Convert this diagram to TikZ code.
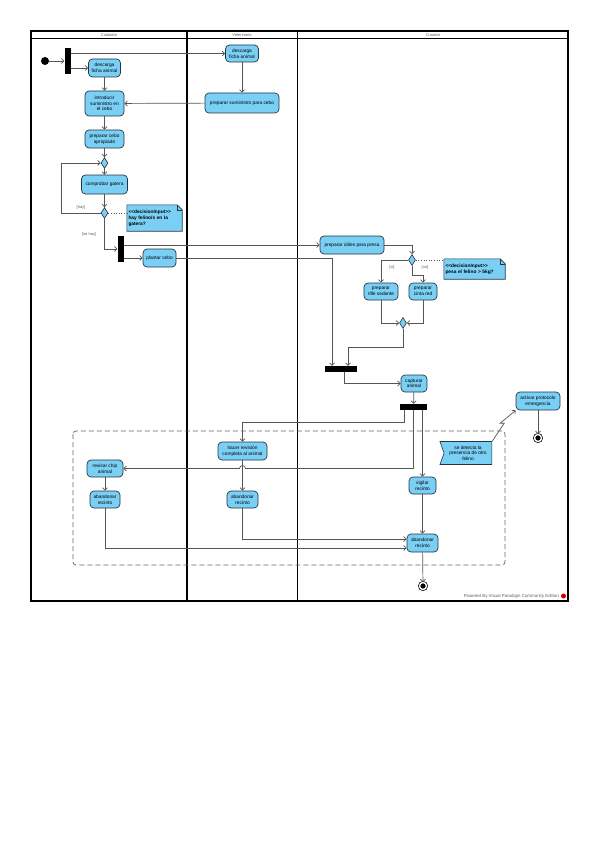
\documentclass[tikz,border=0pt]{standalone}
\usepackage{fontspec}
\setmainfont{Liberation Sans}
\usetikzlibrary{arrows.meta,shapes.geometric,shapes.symbols,calc}
\definecolor{vp_blue}{RGB}{122, 207, 245}
\definecolor{vp_edge}{RGB}{38, 52, 66}
\definecolor{vp_line}{RGB}{85, 85, 85}
\definecolor{vp_gray}{RGB}{95, 95, 95}
\newcommand{\actfont}{\fontsize{4.8}{5.6}\selectfont}
\newcommand{\notefont}{\fontsize{4.8}{6}\selectfont\bfseries}
\newcommand{\lblfont}{\fontsize{4}{4.8}\selectfont}
\pgfdeclarelayer{bg}
\pgfsetlayers{bg,main}
\tikzstyle{act}=[rectangle,rounded corners=4pt,fill=vp_blue,draw=vp_edge,
  line width=0.7pt,align=center,inner sep=1pt,font=\actfont]
\tikzstyle{bar}=[rectangle,fill=black,inner sep=0pt]
\tikzstyle{dec}=[diamond,fill=vp_blue,draw=vp_edge,line width=0.6pt,
  inner sep=0pt,minimum width=7pt,minimum height=11pt]
\tikzstyle{init}=[circle,fill=black,inner sep=0pt,minimum size=8pt]
\tikzstyle{fin}=[circle,fill=black,draw=black,double=white,double distance=1.4pt,
  line width=0.7pt,inner sep=0pt,minimum size=7pt]
\tikzstyle{notebox}=[rectangle,align=left,inner sep=1.5pt,font=\notefont]
\tikzstyle{notebg}=[fill=vp_blue,draw=vp_edge,line width=0.6pt]
\tikzstyle{accept}=[signal,signal from=west,signal to=nowhere,signal pointer angle=140,
  fill=vp_blue,draw=vp_edge,line width=0.6pt,align=center,inner sep=1pt,font=\actfont]
\tikzstyle{flow}=[draw=vp_line,line width=0.7pt,-{Straight Barb[length=2.5pt,width=5pt]}]
\tikzstyle{hint}=[draw=vp_line,line width=0.6pt,dotted]
\tikzstyle{lbl}=[font=\lblfont,text=vp_gray,inner sep=0pt]
\tikzstyle{lane}=[line width=1.1pt,draw=black]
\tikzstyle{region}=[draw=vp_gray,line width=0.7pt,dash pattern=on 5pt off 3pt,rounded corners=3pt]
\tikzstyle{none}=[]
\begin{document}
\begin{tikzpicture}[x=1pt, y=-1pt]
            \useasboundingbox (0,0) rectangle (599,848);
            % swimlanes
            \draw[style=lane] (31,31) rectangle (568,601);
            \draw[style=lane] (31,38.5) -- (568,38.5);
            \draw[style=lane] (187,31) -- (187,601);
            \draw[style=lane] (297.5,31) -- (297.5,601);
            \node [style=lbl] (36) at (109,35) {Cuidador};
            \node [style=lbl] (37) at (242,35) {Veterinario};
            \node [style=lbl] (38) at (433,35) {Curador};
            % interruptible region
            \draw[style=region] (73,431) rectangle (505,565);
            \node [style=init] (0) at (45, 61) {};
            \node [style=bar, minimum width=6pt, minimum height=26pt] (1) at (67.5, 61) {};
            \node [style=act, minimum width=32pt, minimum height=18pt] (2) at (104.5, 68) {descarga\\ficha animal};
            \node [style=act, minimum width=33pt, minimum height=17pt] (3) at (242, 53.5) {descarga\\ficha animal};
            \node [style=act, minimum width=39pt, minimum height=25pt] (4) at (104.5, 103.5) {introducir\\suministro en\\el cebo};
            \node [style=act, minimum width=74pt, minimum height=20pt] (5) at (242, 103) {preparar suministro para cebo};
            \node [style=act, minimum width=39pt, minimum height=18pt] (6) at (104.5, 139) {preparar cebo\\apropiado};
            \node [style=dec] (7) at (104.5, 163) {};
            \node [style=act, minimum width=46pt, minimum height=19pt] (8) at (104.5, 184.5) {comprobar gatera};
            \node [style=dec] (9) at (104.5, 213) {};
            \node [style=notebox, text width=52pt, minimum height=26pt] (10) at (154.5, 218) {<{}<decisionInput>{}>\\hay felino/s en la\\gatera?};
            \node [style=bar, minimum width=6pt, minimum height=26pt] (11) at (120.5, 249) {};
            \node [style=act, minimum width=33pt, minimum height=18pt] (12) at (159.5, 258) {plantar cebo};
            \node [style=act, minimum width=64pt, minimum height=18pt] (13) at (352, 245) {preparar útiles para presa};
            \node [style=dec] (14) at (412, 260) {};
            \node [style=notebox, text width=58pt, minimum height=20pt] (15) at (474.5, 269) {<{}<decisionInput>{}>\\pesa el felino > 5kg?};
            \node [style=act, minimum width=34pt, minimum height=17pt] (16) at (381, 291.5) {preparar\\rifle sedante};
            \node [style=act, minimum width=28pt, minimum height=17pt] (17) at (423, 291.5) {preparar\\cinta red};
            \node [style=dec] (18) at (403, 323) {};
            \node [style=bar, minimum width=32pt, minimum height=6pt] (19) at (341, 369) {};
            \node [style=act, minimum width=26pt, minimum height=17pt] (20) at (414, 383.5) {capturar\\animal};
            \node [style=bar, minimum width=27pt, minimum height=6pt] (21) at (413.5, 407) {};
            \node [style=act, minimum width=49pt, minimum height=18pt] (22) at (242.5, 451) {hacer revisión\\completa al animal};
            \node [style=act, minimum width=36pt, minimum height=17pt] (23) at (105, 468.5) {revisar chip\\animal};
            \node [style=act, minimum width=27pt, minimum height=17pt] (24) at (422.5, 485.5) {vigilar\\recinto};
            \node [style=act, minimum width=30pt, minimum height=17pt] (25) at (105, 499.5) {abandonar\\recinto};
            \node [style=act, minimum width=31pt, minimum height=17pt] (26) at (242.5, 499.5) {abandonar\\recinto};
            \node [style=act, minimum width=31pt, minimum height=18pt] (27) at (422.5, 543) {abandonar\\recinto};
            \node [style=fin] (28) at (423, 586) {};
            \node [style=accept, minimum width=52pt, minimum height=23pt] (29) at (468, 453) {se detecta la\\presencia de otro\\felino};
            \node [style=act, minimum width=44pt, minimum height=18pt] (30) at (538, 401) {activar protocolo\\emergencia};
            \node [style=fin] (31) at (538, 438) {};
            \node [style=lbl] (32) at (81, 207) {[hay]};
            \node [style=lbl] (33) at (89, 234) {[no hay]};
            \node [style=lbl] (34) at (392, 267) {[si]};
            \node [style=lbl] (35) at (425, 267) {[no]};
            \node [style=lbl, anchor=east, font=\fontsize{4.4}{5}\selectfont] (39) at (559, 596) {Powered By Visual Paradigm Community Edition};
            \node [circle, fill=red!80!black, inner sep=0pt, minimum size=5pt] (40) at (563.5, 596) {};
            % note backgrounds
            \begin{pgfonlayer}{bg}
              \filldraw[style=notebg] (10.north west) -- ([xshift=-5pt]10.north east) -- ([yshift=-5pt]10.north east) -- (10.south east) -- (10.south west) -- cycle;
              \draw[vp_edge, line width=0.5pt] ([xshift=-5pt]10.north east) |- ([yshift=-5pt]10.north east);
              \filldraw[style=notebg] (15.north west) -- ([xshift=-5pt]15.north east) -- ([yshift=-5pt]15.north east) -- (15.south east) -- (15.south west) -- cycle;
              \draw[vp_edge, line width=0.5pt] ([xshift=-5pt]15.north east) |- ([yshift=-5pt]15.north east);
            \end{pgfonlayer}
            % flows
            \draw [style=flow] (0) to (1);
            \draw [style=flow] (1.east |- 2.west) to (2.west);
            \draw [style=flow] (1.east |- 3.west) to (3.west);
            \draw [style=flow] (2) to (4);
            \draw [style=flow] (3) to (5);
            \draw [style=flow] (5) to (4);
            \draw [style=flow] (4) to (6);
            \draw [style=flow] (6) to (7);
            \draw [style=flow] (7) to (8);
            \draw [style=flow] (8) to (9);
            \draw [style=flow] (9.west) -- ++(-39,0) |- (7.west);
            \draw [style=hint] (9.east) to (10.west |- 9.east);
            \draw [style=flow] (9.south) |- (11.west);
            \draw [style=flow] (11.east |- 13.west) to (13.west);
            \draw [style=flow] (11.east |- 12.west) to (12.west);
            \draw [style=flow] (12.east) -| ([xshift=-9pt]19.north);
            \draw [style=flow] (13.east) -| (14.north);
            \draw [style=hint] (14.east) to (15.west |- 14.east);
            \draw [style=flow] (14.west) -| (16.north);
            \draw [style=flow] (14.south) -- ++(0,10) -| (17.north);
            \draw [style=flow] (16.south) |- (18.west);
            \draw [style=flow] (17.south) |- (18.east);
            \draw [style=flow] (18.south) -- ++(0,19) -| ([xshift=7pt]19.north);
            \draw [style=flow] ([xshift=3pt]19.south) |- (20.west);
            \draw [style=flow] (20) to (21);
            \draw [style=flow] ([xshift=-9.5pt]21.south) -- ++(0,12) -| (22.north);
            \draw [style=flow] (21.south) |- ([xshift=3pt]22.south |- 23.east) arc[start angle=0, end angle=180, radius=3pt] -- (23.east);
            \draw [style=flow] (24.north |- 21.south) to (24.north);
            \draw [style=flow] (22) to (26);
            \draw [style=flow] (23) to (25);
            \draw [style=flow] (24) to (27);
            \draw [style=flow] (25.south) |- ([yshift=-5pt]27.west);
            \draw [style=flow] (26.south) |- ([yshift=4pt]27.west);
            \draw [style=flow] (27) to (28);
            \draw [style=flow] (30) to (31);
            \draw [style=flow] (29.north east) -- ++(12,-18) -- ++(-4,0) -- (30.south west);
    \end{tikzpicture}
\end{document}
